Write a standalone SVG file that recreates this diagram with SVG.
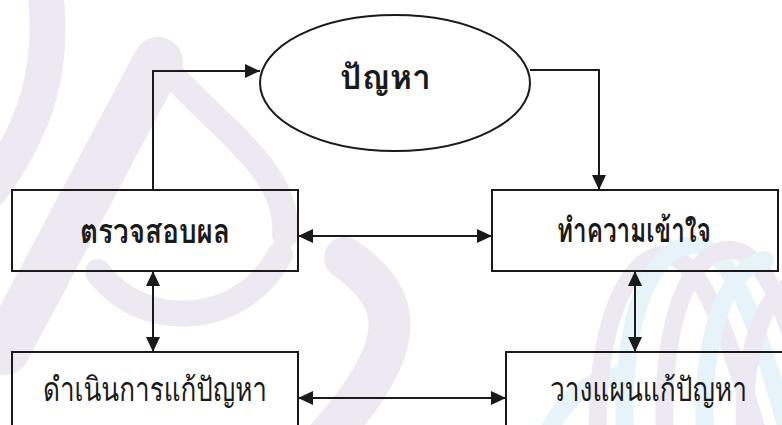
<svg xmlns="http://www.w3.org/2000/svg" width="782" height="425" viewBox="0 0 782 425">
  <defs>
    <style>
      .wp { fill: none; stroke: #ede9f3; stroke-linecap: round; }
      .wc { fill: none; stroke: #e6f4f9; stroke-linecap: round; }
      .node { fill: none; stroke: #1a1a1a; stroke-width: 2; }
      .edge { fill: none; stroke: #1a1a1a; stroke-width: 2; }
      .lbl { font-family: "Norasi", "Kinnari", "Garuda", "Loma", "Noto Serif Thai", "Noto Sans Thai Looped", "Noto Sans Thai", "Noto Sans", "DejaVu Sans", sans-serif; font-size: 34px; fill: #1a1a1a; text-anchor: middle; }
      .s { font-size: 33px; }
      .b { font-weight: bold; }
    </style>
    <marker id="ah" markerUnits="userSpaceOnUse" markerWidth="16" markerHeight="14" refX="15" refY="7" orient="auto-start-reverse">
      <path d="M0,0 L15,7 L0,14 Z" fill="#1a1a1a"/>
    </marker>
  </defs>
  <rect width="782" height="425" fill="#ffffff"/>
  <g id="watermark">
    <path class="wp" stroke-width="36" d="M 45 -10 C 55 70, 35 130, -10 190"/>
    <path class="wp" stroke-width="50" d="M 158 62 L 5 350"/>
    <path class="wp" stroke-width="26" d="M 160 62 C 220 130, 290 170, 285 235"/>
    <path class="wp" stroke-width="26" d="M 98 272 C 140 330, 240 330, 280 255"/>
    <path class="wp" stroke-width="42" d="M 345 258 C 405 300, 410 345, 325 440"/>
    <path class="wc" stroke-width="18" d="M 545 440 C 560 400, 590 380, 620 375"/>
    <path class="wp" stroke-width="18" d="M 598 440 C 595 330, 625 262, 660 255 C 700 250, 730 340, 760 440"/>
    <path class="wc" stroke-width="18" d="M 625 440 C 620 320, 650 250, 690 245 C 730 240, 760 330, 790 440"/>
    <path class="wp" stroke-width="18" d="M 665 440 C 660 320, 690 255, 725 250 C 760 245, 780 300, 800 360"/>
    <path class="wc" stroke-width="18" d="M 705 440 C 700 330, 730 265, 765 260"/>
    <path class="wp" stroke-width="18" d="M 745 440 C 742 360, 760 300, 790 285"/>
  </g>
  <g id="connectors">
    <path class="edge" marker-end="url(#ah)" d="M 153 190 L 153 71 L 260 71"/>
    <path class="edge" marker-end="url(#ah)" d="M 530 70 L 599 70 L 599 190"/>
    <path class="edge" marker-start="url(#ah)" marker-end="url(#ah)" d="M 298 236 L 492 236"/>
    <path class="edge" marker-start="url(#ah)" marker-end="url(#ah)" d="M 298 398 L 506 398"/>
    <path class="edge" marker-start="url(#ah)" marker-end="url(#ah)" d="M 153 271 L 153 352"/>
    <path class="edge" marker-start="url(#ah)" marker-end="url(#ah)" d="M 635 271 L 635 352"/>
  </g>
  <g id="problem">
    <ellipse class="node" cx="395" cy="83" rx="135" ry="68"/>
    <text class="lbl b" x="385.5" y="89" textLength="91" lengthAdjust="spacingAndGlyphs">ปัญหา</text>
  </g>
  <g id="check">
    <rect class="node" x="12" y="190" width="286" height="81"/>
    <text class="lbl b" x="155" y="243" textLength="150" lengthAdjust="spacingAndGlyphs">ตรวจสอบผล</text>
  </g>
  <g id="understand">
    <rect class="node" x="492" y="190" width="286" height="81"/>
    <text class="lbl b" x="634" y="242" textLength="154" lengthAdjust="spacingAndGlyphs">ทำความเข้าใจ</text>
  </g>
  <g id="execute">
    <path class="node" d="M 12 426 V 352 H 298 V 426"/>
    <text class="lbl s" x="155" y="401" textLength="224" lengthAdjust="spacingAndGlyphs">ดำเนินการแก้ปัญหา</text>
  </g>
  <g id="plan">
    <path class="node" d="M 506 426 V 352 H 782"/>
    <text class="lbl s" x="648.5" y="401" textLength="197" lengthAdjust="spacingAndGlyphs">วางแผนแก้ปัญหา</text>
  </g>
</svg>
